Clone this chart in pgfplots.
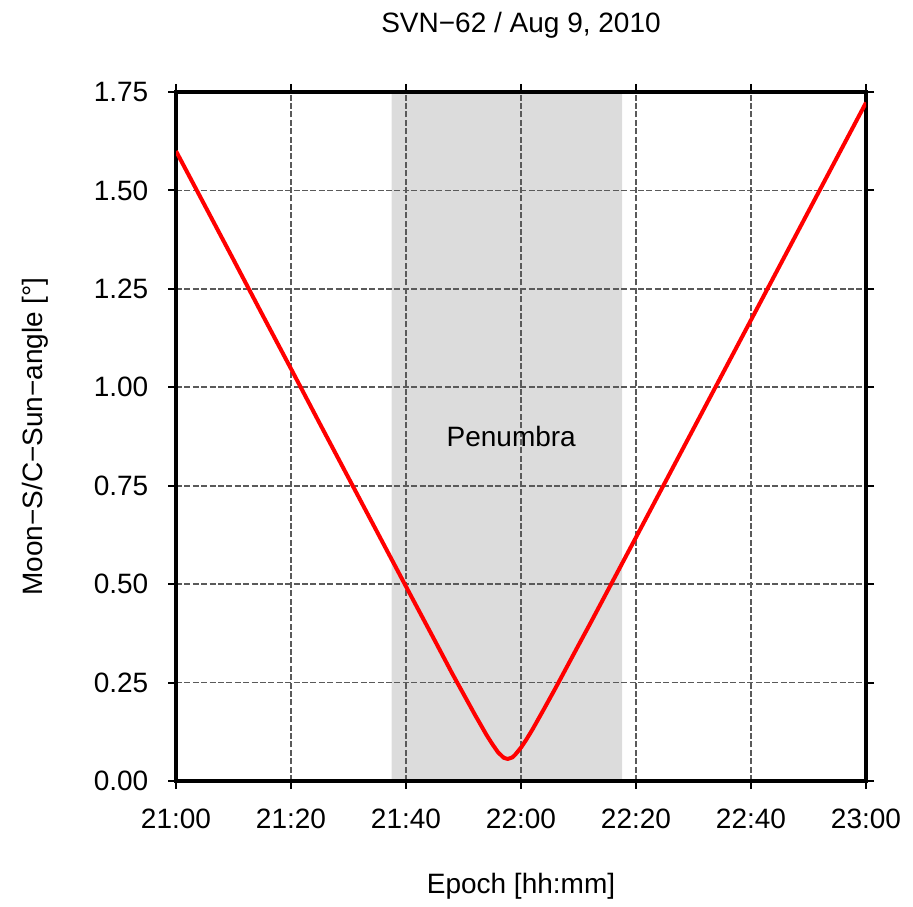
\documentclass[border=0pt]{standalone}
\usepackage{pgfplots}
\pgfplotsset{compat=1.18}
\usepackage{fontspec}
\setmainfont{Liberation Sans}

\definecolor{shade}{RGB}{220,220,220}
\definecolor{gridgray}{RGB}{90,90,90}

% Moon - spacecraft - Sun angle, minutes after 21:00
\pgfplotstableread{
t     ang
0     1.600
5     1.462
10    1.324
15    1.185
20    1.047
25    0.908
30    0.770
35    0.632
40    0.494
45    0.357
48    0.274
50    0.221
52    0.168
54    0.117
55    0.094
56    0.073
57    0.059
57.7  0.056
58.5  0.060
59    0.067
60    0.085
61    0.107
62    0.131
64    0.183
66    0.236
70    0.345
72    0.399
76    0.509
80    0.619
85    0.757
90    0.895
95    1.033
100   1.171
105   1.309
110   1.447
115   1.585
120   1.723
}\angletab

\begin{document}
\fontsize{14}{17}\selectfont
\begin{tikzpicture}
\begin{axis}[
  at={(0,0)}, anchor=south west,
  scale only axis,
  width=345pt, height=344.5pt,
  set layers,
  xmin=0, xmax=120, ymin=0, ymax=1.75,
  xtick={0,20,...,120},
  xticklabels={21:00,21:20,21:40,22:00,22:20,22:40,23:00},
  ytick={0,0.25,...,1.75},
  yticklabel style={/pgf/number format/fixed,/pgf/number format/fixed zerofill,
    /pgf/number format/precision=2,/pgf/number format/assume math mode=true},
  tick align=outside,
  major tick length=4pt,
  tick style={black, line width=1pt},
  axis line style={black, line width=2pt},
  grid=major,
  major grid style={gridgray, line width=0.8pt, dash pattern=on 3pt off 1.2pt},
  xticklabel style={anchor=base, yshift=-19.5pt},
  yticklabel style={anchor=east, xshift=-5pt},
  every axis title shift=0pt,
  title={SVN−62 / Aug 9, 2010},
  title style={at={(axis description cs:0.5,1.087)}, anchor=base},
  xlabel={Epoch [hh:mm]},
  xlabel style={at={(axis description cs:0.5,-0.1626)}, anchor=base},
  ylabel={Moon−S/C−Sun−angle [°]},
  ylabel style={at={(axis description cs:-0.1928,0.5)}, anchor=base},
]
\addplot[on layer=axis background, fill=shade, draw=none]
  coordinates {(37.5,0) (77.6,0) (77.6,1.75) (37.5,1.75) (37.5,0)};
\node at (axis cs:58.3,0.874) {Penumbra};
\addplot[red, line width=2pt, line join=round] table[x=t, y=ang] {\angletab};
\end{axis}
\pgfresetboundingbox
\useasboundingbox (-88pt,-62.5pt) rectangle (368.5pt,390.5pt);
\end{tikzpicture}
\end{document}
